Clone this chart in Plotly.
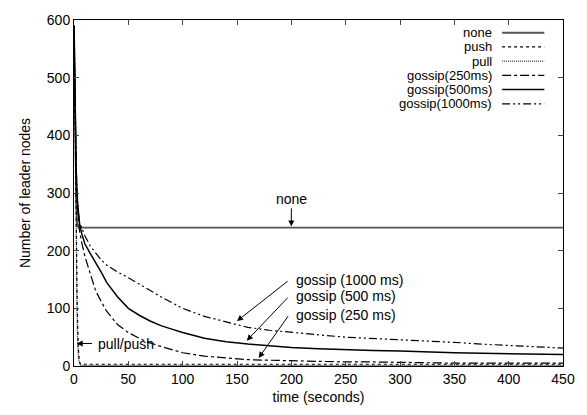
import plotly.graph_objects as go

# ---- data ----
t_none = [0, 1, 2, 3, 4, 450]
v_none = [590, 420, 300, 245, 240, 240]

t_push = [0, 1, 2, 3, 4, 5, 6, 450]
v_push = [590, 420, 250, 100, 30, 8, 3, 3]

t_pull = [0, 1, 2, 3, 4, 5, 6, 450]
v_pull = [590, 400, 200, 60, 15, 4, 1, 1]

t_g = [0, 1, 2, 3, 4, 5, 7, 10, 15, 20, 25, 30, 40, 50, 60, 70, 80, 90, 100,
       120, 140, 160, 180, 200, 225, 250, 275, 300, 325, 350, 375, 400, 425, 450]
v_g250 = [590, 430, 330, 280, 255, 235, 215, 190, 160, 130, 112, 95, 72, 58, 48, 40, 34, 28, 23,
          17, 14, 11, 10, 9, 8, 7, 7, 6, 6, 5, 5, 5, 5, 5]
v_g500 = [590, 440, 340, 290, 262, 248, 230, 212, 195, 180, 163, 145, 120, 100, 88, 78, 70, 64, 58,
          48, 42, 38, 35, 32, 30, 28, 27, 26, 24, 23, 22, 21, 20, 20]
v_g1000 = [590, 450, 350, 290, 262, 250, 240, 226, 208, 195, 184, 175, 163, 153, 142, 130, 120, 110, 100,
           86, 76, 67, 62, 58, 54, 50, 48, 46, 44, 41, 38, 36, 33, 31]

x_ticks = [0, 50, 100, 150, 200, 250, 300, 350, 400, 450]
y_ticks = [0, 100, 200, 300, 400, 500, 600]

legend_names = ["none", "push", "pull", "gossip(250ms)", "gossip(500ms)", "gossip(1000ms)"]

FONT = "Liberation Sans, Arial, Helvetica, sans-serif"
DASH_1000 = "8px,3px,2px,3px,2px,3px"

styles = [
    dict(color="#555555", width=1.8, dash="solid"),
    dict(color="black", width=1.2, dash="dot"),
    dict(color="black", width=1, dash="1px,1px"),
    dict(color="black", width=1.2, dash="dashdot"),
    dict(color="black", width=1.5, dash="solid"),
    dict(color="black", width=1.2, dash=DASH_1000),
]

series = [(t_none, v_none), (t_push, v_push), (t_pull, v_pull),
          (t_g, v_g250), (t_g, v_g500), (t_g, v_g1000)]

fig = go.Figure()
for (tx, vy), name, st in zip(series, legend_names, styles):
    fig.add_trace(go.Scatter(x=tx, y=vy, mode="lines", name=name, line=st, showlegend=False))

# plot area in pixels
L, R, T, B = 74, 572, 16, 369
W, H = R - L, B - T

def px(x):
    return (x - L) / W

def py(y):
    return (B - y) / H

# custom legend: text right-aligned, sample line on the right
rows = [29, 43.5, 58, 72.5, 87, 101.5]
for name, st, yy in zip(legend_names, styles, rows):
    fig.add_annotation(x=px(501), y=py(yy), xref="paper", yref="paper", text=name,
                       showarrow=False, xanchor="right", yanchor="middle", borderpad=0,
                       font=dict(size=13, family=FONT, color="black"))
    fig.add_shape(type="line", xref="paper", yref="paper", x0=px(510), x1=px(553),
                  y0=py(yy), y1=py(yy), line=st)

# in-plot annotations with arrows
def arrow(text, tx, ty, hx, hy, xanchor, yanchor, textx, texty):
    fig.add_annotation(x=hx, y=hy, ax=tx, ay=ty, xref="x", yref="y", axref="x", ayref="y",
                       text="", showarrow=True, arrowhead=2, arrowsize=1.2, arrowwidth=1,
                       arrowcolor="black")
    fig.add_annotation(x=textx, y=texty, xref="x", yref="y", text=text, showarrow=False,
                       xanchor=xanchor, yanchor=yanchor, borderpad=0,
                       font=dict(size=14, family=FONT, color="black"))

arrow("none", 200, 276, 200, 242, "center", "middle", 200, 290)
arrow("gossip (1000 ms)", 198, 149, 150, 78, "left", "middle", 203, 149)
arrow("gossip (500 ms)", 198, 121, 159, 44, "left", "middle", 203, 121)
arrow("gossip (250 ms)", 198, 89, 170, 14, "left", "middle", 203, 89)
arrow("pull/push", 18, 39, 2.5, 39, "left", "middle", 21, 39)

fig.update_layout(
    width=587, height=415,
    margin=dict(l=L, r=587 - R, t=T, b=415 - B),
    plot_bgcolor="white", paper_bgcolor="white",
    font=dict(family=FONT, size=14, color="black"),
    showlegend=False,
)
fig.update_xaxes(range=[0, 450], tickvals=x_ticks, ticks="inside", ticklen=5,
                 showline=True, linecolor="black", linewidth=1, mirror="ticks",
                 showgrid=False, zeroline=False, tickfont=dict(size=14),
                 title=dict(text="time (seconds)", font=dict(size=14), standoff=6))
fig.update_yaxes(range=[0, 600], tickvals=y_ticks, ticks="inside", ticklen=5,
                 showline=True, linecolor="black", linewidth=1, mirror="ticks",
                 showgrid=False, zeroline=False, tickfont=dict(size=14),
                 title=dict(text="Number of leader nodes", font=dict(size=14), standoff=12))

fig.write_html("out.html")
